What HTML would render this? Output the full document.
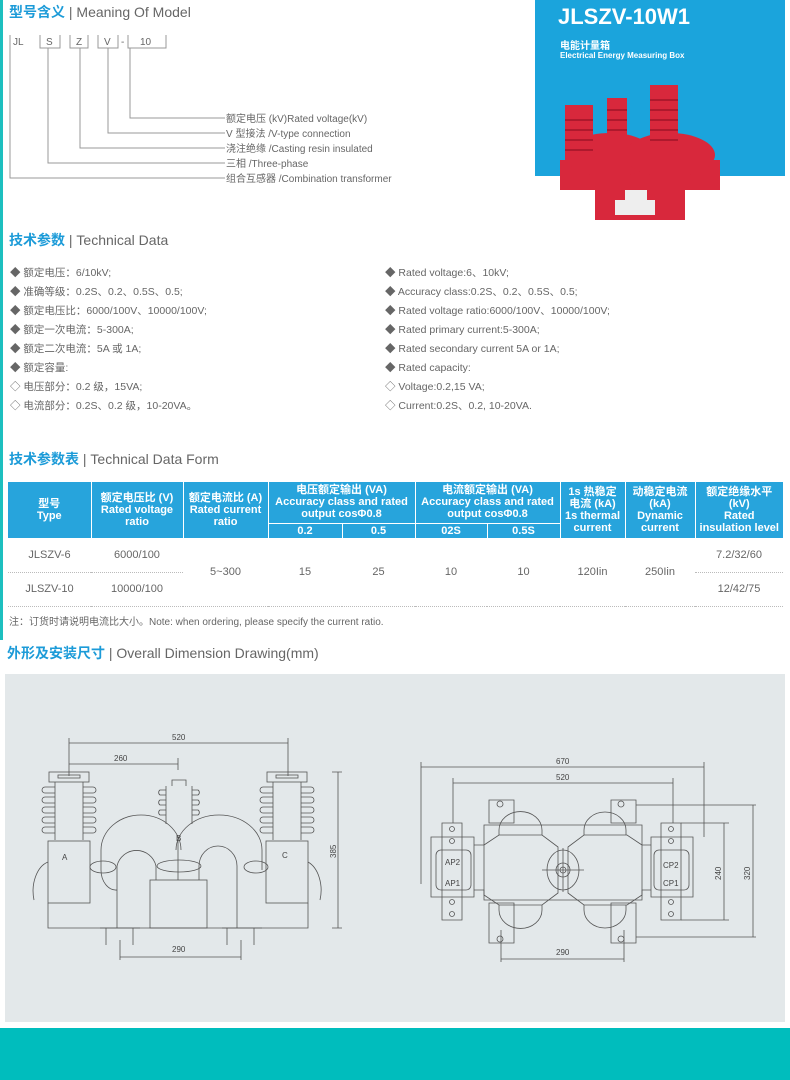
<!DOCTYPE html>
<html><head><meta charset="utf-8"><style>
*{margin:0;padding:0;box-sizing:border-box}
body{width:790px;height:1080px;background:#fff;position:relative;overflow:hidden;font-family:"Liberation Sans","Noto Sans CJK SC",sans-serif;color:#555}
.a{position:absolute;white-space:nowrap}
.h{font-size:14px;color:#666}
.h b{color:#1c9bd8;font-weight:bold}
.li{font-size:10.5px;color:#666}
table{border-collapse:collapse;position:absolute;left:8px;top:482px;width:775px;font-size:11px}
th{background:#27a4dc;color:#fff;font-weight:bold;font-size:11px;line-height:12px;text-align:center;padding:0}
td{text-align:center;color:#666;height:34px;border-bottom:1px dotted #bbb}
</style></head><body>
<div class="a" style="left:0;top:0;width:3px;height:640px;background:#1dbfbf"></div>
<div class="a h" style="left:9px;top:2px"><b>型号含义</b> | Meaning Of Model</div>
<svg class="a" style="left:0;top:0" width="530" height="200" font-family="Liberation Sans" font-size="10" fill="#666">
<g fill="none" stroke="#999" stroke-width="1">
<path d="M10 35v13M40 35v13h20v-13M70 35v13h18v-13M98 35v13h20v-13M128 35v13h38v-13"/>
<path d="M130 48v70h95M108 48v85h117M80 48v100h145M48 48v115h177M10 48v130h215"/>
</g>
<text x="13" y="45">JL</text><text x="46" y="45">S</text><text x="76" y="45">Z</text><text x="104" y="45">V</text><text x="121" y="45">-</text><text x="140" y="45">10</text>
<text x="226" y="122">额定电压 (kV)Rated voltage(kV)</text>
<text x="226" y="137">V 型接法 /V-type connection</text>
<text x="226" y="152">浇注绝缘 /Casting resin insulated</text>
<text x="226" y="167">三相 /Three-phase</text>
<text x="226" y="182">组合互感器 /Combination transformer</text>
</svg>
<div class="a" style="left:535px;top:0;width:250px;height:176px;background:#1ba4dc"></div>
<div class="a" style="left:558px;top:4px;font-size:22px;font-weight:bold;color:#fff">JLSZV-10W1</div>
<div class="a" style="left:560px;top:37px;font-size:10px;font-weight:bold;color:#fff">电能计量箱</div>
<div class="a" style="left:560px;top:51px;font-size:8px;font-weight:bold;color:#fff">Electrical Energy Measuring Box</div>
<svg class="a" style="left:555px;top:80px" width="180" height="140">
<g fill="#d8283c">
<rect x="10" y="25" width="28" height="65"/><rect x="95" y="5" width="28" height="70"/><rect x="52" y="18" width="20" height="50"/>
<path d="M5 80h160v30h-35v30h-90v-30h-35z"/><ellipse cx="55" cy="75" rx="45" ry="22"/><ellipse cx="115" cy="75" rx="45" ry="22"/>
</g>
<g stroke="#a01428" stroke-width="1.5"><path d="M10 40h28M10 50h28M10 60h28M10 70h28M95 20h28M95 30h28M95 40h28M95 50h28M95 60h28M52 30h20M52 40h20M52 50h20"/></g>
<rect x="70" y="110" width="22" height="20" fill="#eee"/><rect x="60" y="120" width="40" height="15" fill="#eee"/>
</svg>
<div class="a h" style="left:9px;top:230px"><b>技术参数</b> | Technical Data</div>
<div class="a li" style="left:10px;top:264px;line-height:19px">◆ 额定电压：6/10kV;<br>◆ 准确等级：0.2S、0.2、0.5S、0.5;<br>◆ 额定电压比：6000/100V、10000/100V;<br>◆ 额定一次电流：5-300A;<br>◆ 额定二次电流：5A 或 1A;<br>◆ 额定容量:<br>◇ 电压部分：0.2 级，15VA;<br>◇ 电流部分：0.2S、0.2 级，10-20VA。</div>
<div class="a li" style="left:385px;top:264px;line-height:19px">◆ Rated voltage:6、10kV;<br>◆ Accuracy class:0.2S、0.2、0.5S、0.5;<br>◆ Rated voltage ratio:6000/100V、10000/100V;<br>◆ Rated primary current:5-300A;<br>◆ Rated secondary current 5A or 1A;<br>◆ Rated capacity:<br>◇ Voltage:0.2,15 VA;<br>◇ Current:0.2S、0.2, 10-20VA.</div>
<div class="a h" style="left:9px;top:449px"><b>技术参数表</b> | Technical Data Form</div>
<table>
<colgroup><col style="width:83px"><col style="width:92px"><col style="width:85px"><col style="width:74px"><col style="width:73px"><col style="width:72px"><col style="width:73px"><col style="width:65px"><col style="width:70px"><col style="width:88px"></colgroup>
<tr style="height:41px"><th rowspan="2" style="border-right:1px solid #fff">型号<br>Type</th><th rowspan="2" style="border-right:1px solid #fff">额定电压比 (V)<br>Rated voltage<br>ratio</th><th rowspan="2" style="border-right:1px solid #fff">额定电流比 (A)<br>Rated current<br>ratio</th><th colspan="2" style="border-right:1px solid #fff">电压额定输出 (VA)<br>Accuracy class and rated<br>output cosΦ0.8</th><th colspan="2" style="border-right:1px solid #fff">电流额定输出 (VA)<br>Accuracy class and rated<br>output cosΦ0.8</th><th rowspan="2" style="border-right:1px solid #fff">1s 热稳定<br>电流 (kA)<br>1s thermal<br>current</th><th rowspan="2" style="border-right:1px solid #fff">动稳定电流<br>(kA)<br>Dynamic<br>current</th><th rowspan="2">额定绝缘水平<br>(kV)<br>Rated<br>insulation level</th></tr>
<tr style="height:15px"><th style="border-right:1px solid #fff;border-top:1px solid #fff">0.2</th><th style="border-right:1px solid #fff;border-top:1px solid #fff">0.5</th><th style="border-right:1px solid #fff;border-top:1px solid #fff">02S</th><th style="border-right:1px solid #fff;border-top:1px solid #fff">0.5S</th></tr>
<tr><td>JLSZV-6</td><td>6000/100</td><td rowspan="2">5~300</td><td rowspan="2">15</td><td rowspan="2">25</td><td rowspan="2">10</td><td rowspan="2">10</td><td rowspan="2">120Iin</td><td rowspan="2">250Iin</td><td>7.2/32/60</td></tr>
<tr><td>JLSZV-10</td><td>10000/100</td><td>12/42/75</td></tr>
</table>
<div class="a" style="left:9px;top:613px;font-size:10px;color:#666">注：订货时请说明电流比大小。Note: when ordering, please specify the current ratio.</div>
<div class="a h" style="left:7px;top:643px"><b>外形及安装尺寸</b> | Overall Dimension Drawing(mm)</div>
<div class="a" style="left:5px;top:674px;width:780px;height:348px;background:#e3e8ea"></div>
<div class="a" style="left:0;top:1028px;width:790px;height:52px;background:#00bdbd"></div>
<svg class="a" style="left:0;top:0" width="790" height="1028" font-family="Liberation Sans" font-size="8" fill="#444">
<g fill="none" stroke="#555" stroke-width="0.8">
<!-- left dims -->
<path d="M69 738v38M288 738v38M69 743h219M69 764h109M178 758v12M332 772h10M332 928h10M338 772v156M120 957h121M120 940v20M241 940v20"/>
<!-- insulators -->
<rect x="49" y="772" width="40" height="10"/><rect x="58" y="775" width="22" height="3"/>
<rect x="267" y="772" width="40" height="10"/><rect x="276" y="775" width="22" height="3"/>
<path d="M55 782v58M83 782v58M273 782v58M301 782v58M166 786v38M192 786v38"/>
<path d="M55 787h-10a3 3 0 0 0 0 6h10M83 787h10a3 3 0 0 1 0 6h-10M55 797h-10a3 3 0 0 0 0 6h10M83 797h10a3 3 0 0 1 0 6h-10M55 807h-10a3 3 0 0 0 0 6h10M83 807h10a3 3 0 0 1 0 6h-10M55 817h-10a3 3 0 0 0 0 6h10M83 817h10a3 3 0 0 1 0 6h-10M55 827h-10a3 3 0 0 0 0 6h10M83 827h10a3 3 0 0 1 0 6h-10"/>
<path d="M273 787h-10a3 3 0 0 0 0 6h10M301 787h10a3 3 0 0 1 0 6h-10M273 797h-10a3 3 0 0 0 0 6h10M301 797h10a3 3 0 0 1 0 6h-10M273 807h-10a3 3 0 0 0 0 6h10M301 807h10a3 3 0 0 1 0 6h-10M273 817h-10a3 3 0 0 0 0 6h10M301 817h10a3 3 0 0 1 0 6h-10M273 827h-10a3 3 0 0 0 0 6h10M301 827h10a3 3 0 0 1 0 6h-10"/>
<path d="M166 790h-6a3 3 0 0 0 0 5h6M192 790h6a3 3 0 0 1 0 5h-6M166 800h-6a3 3 0 0 0 0 5h6M192 800h6a3 3 0 0 1 0 5h-6M166 810h-6a3 3 0 0 0 0 5h6M192 810h6a3 3 0 0 1 0 5h-6M172 786v-6h14v6"/>
<rect x="48" y="841" width="42" height="62"/><rect x="266" y="841" width="42" height="62"/>
<path d="M48 903v25h260v-25M34 900a20 30 0 0 1 14-38M320 900a20 30 0 0 0 -12-38"/>
<!-- U arcs -->
<path d="M101 870v-20a40 35 0 0 1 80 0M117 928v-62a20 20 0 0 1 39 0v14M176 850a43 35 0 0 1 86 0v20M199 880v-14a19 20 0 0 1 38 0v62M101 870a15 20 0 0 0 16 20"/>
<ellipse cx="103" cy="867" rx="13" ry="6"/><ellipse cx="179" cy="866" rx="22" ry="6"/><ellipse cx="256" cy="867" rx="12" ry="6"/>
<path d="M178 840v40"/>
<rect x="150" y="880" width="57" height="48"/>
<path d="M106 928v17M133 928v17M227 928v17M254 928v17M100 928h40M222 928h40"/>
<!-- right dims -->
<path d="M421 762v122M704 762v75M421 767h283M453 778v45M673 778v45M453 783h220M501 930v32M624 930v32M501 959h123"/>
<path d="M636 805h120M636 937h120M681 823h48M681 920h48M724 823v97M753 805v132"/>
<!-- brackets -->
<path d="M442 823h20v97h-20zM661 823h20v97h-20z"/>
<path d="M431 837h43v60h-43zM651 837h42v60h-42z"/>
<rect x="436" y="850" width="35" height="40" rx="5"/><rect x="654" y="850" width="35" height="40" rx="5"/>
<circle cx="452" cy="829" r="2.5"/><circle cx="452" cy="841" r="2.5"/><circle cx="452" cy="902" r="2.5"/><circle cx="452" cy="914" r="2.5"/>
<circle cx="671" cy="829" r="2.5"/><circle cx="671" cy="841" r="2.5"/><circle cx="671" cy="902" r="2.5"/><circle cx="671" cy="914" r="2.5"/>
<!-- plates -->
<path d="M489 800h25v23h-25zM611 800h25v23h-25zM489 903h25v40h-25zM611 903h25v40h-25z"/>
<circle cx="500" cy="804" r="3"/><circle cx="621" cy="804" r="3"/><circle cx="500" cy="939" r="3"/><circle cx="621" cy="939" r="3"/>
<!-- body -->
<path d="M474 845h10v-20h158v20h9M474 890h10v10h158v-10h9"/>
<path d="M484 845l15-10h43l16 12v46l-16 12h-43l-15-10zM642 845l-15-10h-43l-16 12v46l16 12h43l15-10z"/>
<path d="M499 835v-5a21 18 0 0 1 43 0v5M584 835v-5a21 18 0 0 1 42 0v5M499 905v5a21 18 0 0 0 43 0v-5M584 905v5a21 18 0 0 0 42 0v-5"/>
<ellipse cx="563" cy="870" rx="16" ry="20"/><circle cx="563" cy="870" r="7"/><circle cx="563" cy="870" r="3"/><path d="M542 870h42M563 848v44"/>
</g>
<text x="172" y="740">520</text><text x="114" y="761">260</text><text x="172" y="952">290</text>
<text x="62" y="860">A</text><text x="176" y="841">B</text><text x="282" y="858">C</text>
<text x="556" y="764">670</text><text x="556" y="780">520</text><text x="556" y="955">290</text>
<text x="445" y="865">AP2</text><text x="445" y="886">AP1</text><text x="663" y="868">CP2</text><text x="663" y="886">CP1</text>
<text transform="translate(336 858) rotate(-90)">385</text><text transform="translate(721 880) rotate(-90)">240</text><text transform="translate(750 880) rotate(-90)">320</text>
</svg>
</body></html>
